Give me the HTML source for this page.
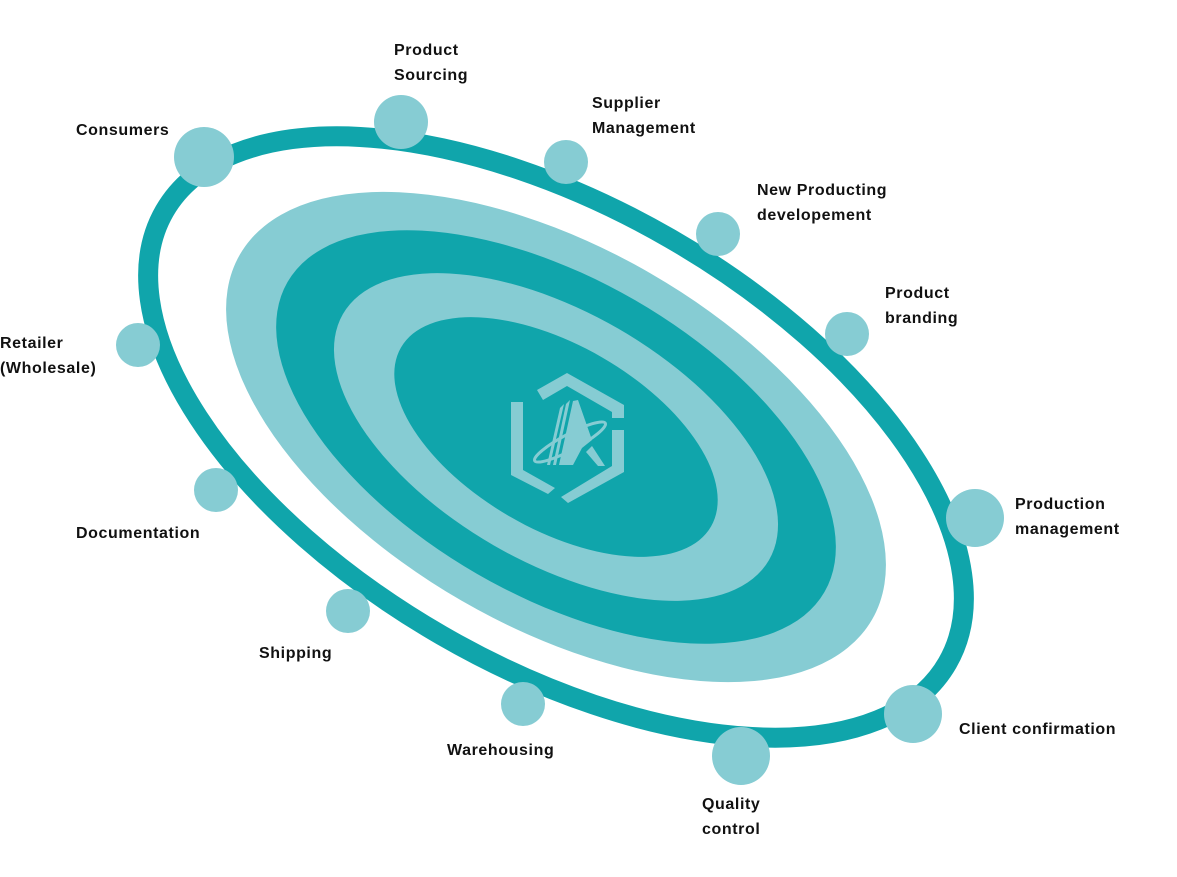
<!DOCTYPE html>
<html><head><meta charset="utf-8"><style>
html,body{margin:0;padding:0;background:#fff;}
svg{display:block}
text{font-family:"Liberation Sans","DejaVu Sans",sans-serif;font-weight:bold;font-size:16px;fill:#111;letter-spacing:0.6px;}
</style></head><body>
<svg width="1177" height="877" viewBox="0 0 1177 877" xmlns="http://www.w3.org/2000/svg">
<g transform="translate(556 437) rotate(30)">
<ellipse cx="0" cy="0" rx="452" ry="229" fill="none" stroke="#10a5ab" stroke-width="20"/>
<ellipse cx="0" cy="0" rx="365" ry="189" fill="#86ccd3"/>
<ellipse cx="0" cy="0" rx="310" ry="158" fill="#10a5ab"/>
<ellipse cx="0" cy="0" rx="246" ry="125" fill="#86ccd3"/>
<ellipse cx="0" cy="0" rx="179" ry="92" fill="#10a5ab"/>
</g>
<!-- logo -->
<g fill="#86ccd3" stroke="none">
<polygon points="567,373 624,405 624,418 612,418 612,412 567,386 543,400 537,390"/>
<polygon points="511,402 523,402 523,470 555,488 548,494 511,475"/>
<polygon points="624,430 624,472 568,503 561,497 612,466 612,430"/>
<polygon points="547,465 560,408 564,404 550,465"/>
<polygon points="553,465 566,404 570,400 556,465"/>
<polygon points="559,465 573,401 578,400 592,440 582,448 573,465"/>
<polygon points="586,452 592,446 605,466 598,466"/>
</g>
<ellipse cx="570" cy="442" rx="40" ry="8" transform="rotate(-28 570 442)" fill="none" stroke="#86ccd3" stroke-width="3"/>
<g fill="#86ccd3">
<circle cx="204" cy="157" r="30"/>
<circle cx="401" cy="122" r="27"/>
<circle cx="566" cy="162" r="22"/>
<circle cx="718" cy="234" r="22"/>
<circle cx="847" cy="334" r="22"/>
<circle cx="975" cy="518" r="29"/>
<circle cx="913" cy="714" r="29"/>
<circle cx="741" cy="756" r="29"/>
<circle cx="523" cy="704" r="22"/>
<circle cx="348" cy="611" r="22"/>
<circle cx="216" cy="490" r="22"/>
<circle cx="138" cy="345" r="22"/>
</g>
<text x="76" y="135">Consumers</text>
<text x="394" y="55">Product</text>
<text x="394" y="80">Sourcing</text>
<text x="592" y="108">Supplier</text>
<text x="592" y="133">Management</text>
<text x="757" y="195">New Producting</text>
<text x="757" y="220">developement</text>
<text x="885" y="298">Product</text>
<text x="885" y="323">branding</text>
<text x="1015" y="509">Production</text>
<text x="1015" y="534">management</text>
<text x="959" y="734">Client confirmation</text>
<text x="702" y="809">Quality</text>
<text x="702" y="834">control</text>
<text x="447" y="755">Warehousing</text>
<text x="259" y="658">Shipping</text>
<text x="76" y="538">Documentation</text>
<text x="0" y="348">Retailer</text>
<text x="0" y="373">(Wholesale)</text>
</svg>
</body></html>
